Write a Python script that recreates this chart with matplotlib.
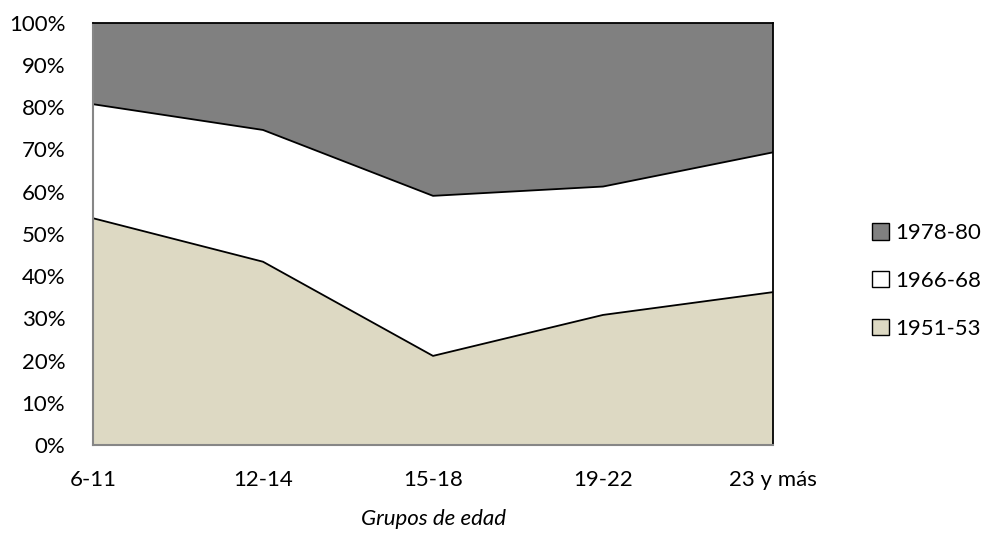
import matplotlib.pyplot as plt
import numpy as np
from matplotlib.patches import Patch

# =============================================================================
# Data (share of each cohort, in %)
# =============================================================================
grupos = ['6-11', '12-14', '15-18', '19-22', '23 y más']
s_1951 = [53.7, 43.4, 21.1, 30.8, 36.2]
s_1966 = [27.0, 31.2, 37.9, 30.4, 33.1]
s_1978 = [19.3, 25.4, 41.0, 38.8, 30.7]

series_labels = ['1951-53', '1966-68', '1978-80']
colors = ['#DDD9C3', '#FFFFFF', '#808080']

plt.rcParams['font.family'] = ['Lato', 'DejaVu Sans']
FS = 16

W, H = 988, 536
fig = plt.figure(figsize=(W / 100, H / 100), dpi=100)
ax = fig.add_axes([93 / W, (H - 445) / H, (773 - 93) / W, (445 - 22.7) / H])

x = np.arange(len(grupos))
ax.stackplot(x, s_1951, s_1966, s_1978, colors=colors, edgecolor='none')

# boundary lines between bands
cum1 = np.array(s_1951)
cum2 = cum1 + np.array(s_1966)
ax.plot(x, cum1, color='black', lw=1.3)
ax.plot(x, cum2, color='black', lw=1.3)

ax.set_xlim(0, len(grupos) - 1)
ax.set_ylim(0, 100)
ax.set_yticks(np.arange(0, 101, 10))
ax.set_yticklabels([f'{v}%' for v in range(0, 101, 10)])
ax.set_xticks(x)
ax.set_xticklabels(grupos)
ax.tick_params(axis='both', length=0, labelsize=FS, colors='black')
ax.tick_params(axis='y', pad=20)
ax.tick_params(axis='x', pad=18)

for side in ['top', 'right']:
    ax.spines[side].set_color('black')
    ax.spines[side].set_linewidth(1.3)
for side in ['left', 'bottom']:
    ax.spines[side].set_color('#868686')
    ax.spines[side].set_linewidth(1.5)

ax.set_xlabel('Grupos de edad', fontsize=FS, style='italic', labelpad=14)

handles = [Patch(facecolor=c, edgecolor='black', linewidth=1.0) for c in colors]
fig.legend(handles[::-1], series_labels[::-1], loc='center left',
           bbox_to_anchor=(872 / W, 1 - 281 / H), frameon=False,
           fontsize=FS, handlelength=0.75, handleheight=0.75,
           handletextpad=0.3, labelspacing=1.25, borderpad=0,
           borderaxespad=0)

fig.savefig('out.png', dpi=100)
